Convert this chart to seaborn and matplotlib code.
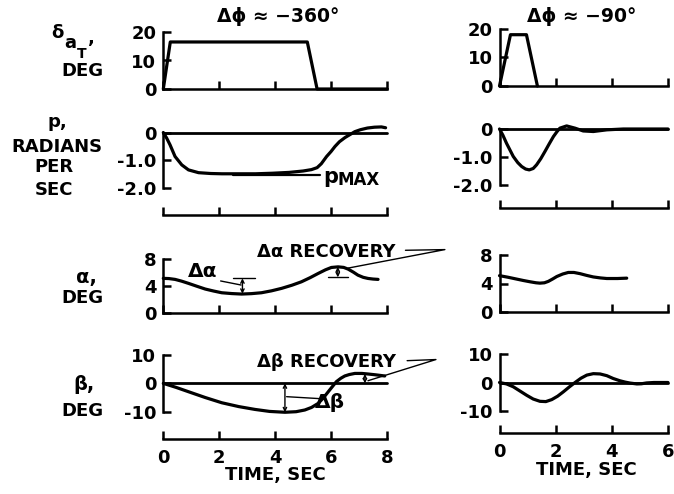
import matplotlib
matplotlib.use("Agg")
import matplotlib.pyplot as plt
import seaborn as sns

# ---- time histories, roll of about -360 deg (left column) ----
t_da_360 = [0.0, 0.25, 5.15, 5.5, 8.0]
da_360 = [0.0, 16.5, 16.5, 0.0, 0.0]

t_p_360 = [0.0, 0.12, 0.24, 0.42, 0.66, 0.9, 1.26, 1.7, 2.1, 2.7, 3.3, 3.9, 4.5,
           5.0, 5.3, 5.5, 5.65, 5.84, 6.0, 6.14, 6.3, 6.5, 6.7, 6.85, 7.05, 7.3,
           7.55, 7.8, 7.95]
p_360 = [0.0, -0.2, -0.44, -0.86, -1.16, -1.34, -1.44, -1.47, -1.48, -1.48, -1.48,
         -1.46, -1.43, -1.38, -1.33, -1.26, -1.12, -0.86, -0.68, -0.5, -0.33, -0.18,
         -0.06, 0.03, 0.1, 0.16, 0.19, 0.2, 0.17]

t_a_360 = [0.0, 0.2, 0.42, 0.65, 0.9, 1.2, 1.5, 1.8, 2.09, 2.45, 2.8, 3.15, 3.51,
           3.87, 4.23, 4.6, 4.94, 5.25, 5.54, 5.8, 6.01, 6.25, 6.45, 6.61, 6.8,
           6.96, 7.15, 7.32, 7.5, 7.68]
a_360 = [5.1, 5.07, 4.95, 4.7, 4.37, 3.95, 3.54, 3.25, 3.0, 2.88, 2.81, 2.87, 3.0,
         3.28, 3.64, 4.1, 4.6, 5.2, 5.82, 6.35, 6.69, 6.78, 6.7, 6.45, 6.0, 5.57,
         5.25, 5.09, 5.0, 4.95]

t_b_360 = [0.0, 0.45, 0.9, 1.5, 2.09, 2.7, 3.28, 3.8, 4.35, 4.75, 5.06, 5.3, 5.54,
           5.72, 5.9, 6.05, 6.19, 6.35, 6.49, 6.65, 6.85, 7.1, 7.32, 7.6, 7.92]
b_360 = [0.0, -1.4, -2.95, -5.0, -6.84, -8.2, -9.2, -9.9, -10.2, -10.0, -9.4, -8.5,
         -7.06, -5.2, -2.95, -1.1, 0.6, 1.8, 2.6, 3.1, 3.5, 3.5, 3.3, 3.0, 2.6]

# ---- time histories, roll of about -90 deg (right column) ----
t_da_90 = [0.0, 0.39, 0.96, 1.35]
da_90 = [0.0, 18.0, 18.0, 0.0]

t_p_90 = [0.0, 0.12, 0.25, 0.49, 0.65, 0.79, 0.93, 1.06, 1.2, 1.32, 1.47, 1.62,
          1.77, 1.92, 2.05, 2.15, 2.39, 2.69, 2.98, 3.34, 3.82, 4.41, 6.0]
p_90 = [0.0, -0.22, -0.51, -0.98, -1.2, -1.34, -1.43, -1.46, -1.41, -1.28, -1.06,
        -0.8, -0.53, -0.27, -0.09, 0.03, 0.11, 0.03, -0.07, -0.09, -0.03, 0.0, 0.0]

t_a_90 = [0.0, 0.3, 0.61, 0.85, 1.09, 1.3, 1.44, 1.6, 1.74, 1.9, 2.04, 2.25, 2.45,
          2.65, 2.87, 3.1, 3.34, 3.6, 3.82, 4.2, 4.53]
a_90 = [5.1, 4.88, 4.62, 4.42, 4.24, 4.1, 4.05, 4.1, 4.3, 4.65, 4.98, 5.33, 5.55,
        5.55, 5.38, 5.14, 4.92, 4.78, 4.7, 4.7, 4.75]

t_b_90 = [0.0, 0.25, 0.49, 0.73, 0.97, 1.2, 1.44, 1.65, 1.86, 2.07, 2.27, 2.48,
          2.69, 2.9, 3.11, 3.34, 3.58, 3.82, 4.05, 4.29, 4.47, 4.65, 4.89, 5.05,
          5.24, 5.5, 6.0]
b_90 = [0.0, -0.5, -1.5, -3.0, -4.5, -5.8, -6.6, -6.7, -6.0, -4.8, -3.3, -1.6,
        0.0, 1.5, 2.6, 3.1, 3.0, 2.4, 1.4, 0.6, 0.15, -0.2, -0.5, -0.45, -0.15,
        0.0, 0.0]

# ---- axis ticks and labels ----
xticks_360 = [0, 2, 4, 6, 8]
xticks_90 = [0, 2, 4, 6]
da_ticks, da_labels = [0, 10, 20], ["0", "10", "20"]
p_ticks, p_labels = [-2.0, -1.0, 0.0], ["-2.0", "-1.0", "0"]
a_ticks, a_labels = [0, 4, 8], ["0", "4", "8"]
b_ticks, b_labels = [-10, 0, 10], ["-10", "0", "10"]
p_max = -1.52

sns.set_style("ticks")
plt.rcParams["font.family"] = ["DejaVu Sans"]
plt.rcParams["font.weight"] = "bold"
plt.rcParams["axes.unicode_minus"] = False
for key in ("text.color", "axes.labelcolor", "xtick.color", "ytick.color",
            "axes.edgecolor"):
    plt.rcParams[key] = "black"

W, H = 674, 494
fig = plt.figure(figsize=(W / 100, H / 100), dpi=100, facecolor="white")
FS = 13
LW = 2.3
SP = 1.8


def fp(x, y):
    return x / W, 1 - y / H


def label(x, y, s, size=FS, **kw):
    fig.text(*fp(x, y), s, fontsize=size, ha=kw.pop("ha", "center"),
             va=kw.pop("va", "center"), **kw)


def panel(x0, x1, xlim, ref_a, ref_b, ylim, yb, yt, ylab, xt, xlab=False):
    (va, pa), (vb, pb) = ref_a, ref_b
    s = (pb - pa) / (va - vb)
    top = pa - (ylim[1] - va) * s
    bot = pa + (va - ylim[0]) * s
    ax = fig.add_axes([x0 / W, 1 - bot / H, (x1 - x0) / W, (bot - top) / H])
    ax.set_xlim(*xlim)
    ax.set_ylim(*ylim)
    ax.set_facecolor("none")
    for side in ("top", "right"):
        ax.spines[side].set_visible(False)
    for side in ("left", "bottom"):
        ax.spines[side].set_linewidth(SP)
        ax.spines[side].set_color("black")
    ax.spines["left"].set_bounds(yb[0], yb[1])
    ax.set_yticks(yt)
    ax.set_yticklabels(ylab)
    ax.set_xticks(xt)
    if xlab:
        ax.set_xticklabels([str(v) for v in xt])
    else:
        ax.tick_params(axis="x", labelbottom=False)
    ax.tick_params(axis="both", direction="in", length=6, width=SP,
                   labelsize=FS, colors="black")
    ax.tick_params(axis="y", pad=5)
    ax.tick_params(axis="x", pad=7)
    return ax


def curve(ax, t, v):
    sns.lineplot(x=t, y=v, ax=ax, color="black", lw=LW, estimator=None,
                 sort=False)
    for ln in ax.lines:
        ln.set_clip_on(False)
        ln.set_solid_capstyle("round")
        ln.set_solid_joinstyle("round")


# left column
L0, L1 = 163.3, 387
ax1 = panel(L0, L1, (0, 8), (20, 32), (0, 89), (0, 20), (0, 20), da_ticks, da_labels, xticks_360)
ax2 = panel(L0, L1, (0, 8), (0, 132.5), (-2, 188.3), (-2.96, 0.3), (-2, 0), p_ticks, p_labels, xticks_360)
ax3 = panel(L0, L1, (0, 8), (8, 258.5), (0, 313.3), (0, 8), (0, 8), a_ticks, a_labels, xticks_360)
ax4 = panel(L0, L1, (0, 8), (10, 355), (-10, 411.7), (-19.6, 10), (-10, 10), b_ticks, b_labels, xticks_360, True)

# right column
R0, R1 = 499.5, 668
bx1 = panel(R0, R1, (0, 6), (20, 29), (0, 86), (0, 20), (0, 20), da_ticks, da_labels, xticks_90)
bx2 = panel(R0, R1, (0, 6), (0, 129), (-2, 185), (-2.82, 0.3), (-2, 0), p_ticks, p_labels, xticks_90)
bx3 = panel(R0, R1, (0, 6), (8, 255), (0, 312), (0, 8), (0, 8), a_ticks, a_labels, xticks_90)
bx4 = panel(R0, R1, (0, 6), (10, 354), (-10, 411), (-17.7, 10), (-10, 10), b_ticks, b_labels, xticks_90, True)

for ax in (ax2, ax4, bx2, bx4):
    ax.axhline(0, color="black", lw=2.0)

curve(ax1, t_da_360, da_360)
curve(ax2, t_p_360, p_360)
curve(ax3, t_a_360, a_360)
curve(ax4, t_b_360, b_360)
curve(bx1, t_da_90, da_90)
curve(bx2, t_p_90, p_90)
curve(bx3, t_a_90, a_90)
curve(bx4, t_b_90, b_90)

thin = dict(color="black", lw=1.0, clip_on=False)
arr = dict(arrowstyle="<->", lw=1.0, color="black", mutation_scale=6,
           shrinkA=0, shrinkB=0)

# p max marker
ax2.plot([2.5, 5.6], [p_max, p_max], color="black", lw=1.6, clip_on=False)
ax2.text(5.72, -1.81, "p", fontsize=FS + 2, va="baseline", ha="left")
ax2.text(6.22, -1.7, "MAX", fontsize=FS - 1, va="center", ha="left")

# alpha excursion and recovery
ax3.plot([2.49, 3.28], [5.1, 5.1], **thin)
ax3.annotate("", xy=(2.83, 2.85), xytext=(2.83, 5.1), arrowprops=arr,
             annotation_clip=False)
ax3.plot([2.05, 2.78], [4.72, 4.13], **thin)
ax3.text(1.42, 6.05, "Δα", fontsize=FS + 1.5, ha="center", va="center")
ax3.plot([5.89, 6.6], [5.25, 5.25], **thin)
ax3.annotate("", xy=(6.24, 6.78), xytext=(6.24, 5.25), arrowprops=arr,
             annotation_clip=False)
ax3.plot([6.61, 10.07, 8.66], [6.6, 9.3, 9.2], **thin)
ax3.text(5.82, 8.95, "Δα RECOVERY", fontsize=FS, ha="center", va="center")

# beta excursion and recovery
ax4.annotate("", xy=(4.35, -10.2), xytext=(4.35, 0), arrowprops=arr,
             annotation_clip=False)
ax4.plot([4.41, 5.78], [-4.7, -5.5], **thin)
ax4.text(5.95, -6.6, "Δβ", fontsize=FS + 1.5, ha="center", va="center")
ax4.annotate("", xy=(7.21, 3.3), xytext=(7.21, 0), arrowprops=arr,
             annotation_clip=False)
ax4.plot([7.32, 9.75, 8.72], [0.93, 8.4, 8.0], **thin)
ax4.text(5.84, 7.64, "Δβ RECOVERY", fontsize=FS, ha="center", va="center")

# column titles
label(278, 17, "Δϕ ≈ −360°", FS + 0.5)
label(582, 17, "Δϕ ≈ −90°", FS + 0.5)

# row labels
label(57, 33, "δ")
label(70, 43, "a")
label(82, 54, "T", FS - 3)
label(91, 38, ",")
label(82, 71, "DEG")

label(57, 122, "p,")
label(57, 146.5, "RADIANS")
label(54, 167.5, "PER")
label(54, 189.5, "SEC")

label(86, 278, "α,", FS + 1)
label(82, 298, "DEG")

label(84, 385, "β,", FS + 1)
label(82, 411, "DEG")

label(275, 475, "TIME, SEC")
label(586, 470, "TIME, SEC")

fig.savefig("out.png", dpi=100, facecolor="white")
